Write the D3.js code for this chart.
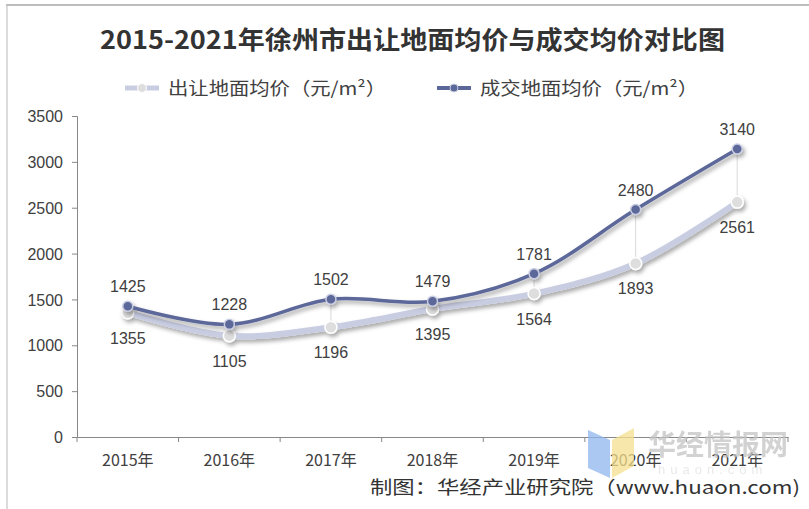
<!DOCTYPE html>
<meta charset="utf-8">
<style>
body { margin: 0; background: #fff; }
svg { display: block; font-family: "Liberation Sans", Arial, sans-serif; }
.cjk { font-family: "Noto Sans CJK SC", sans-serif; }
.axis path, .axis line { stroke: #888; }
.axis text { fill: #404040; font-size: 16px; }
</style>
<svg width="809" height="509"></svg>
<script src="https://d3js.org/d3.v7.min.js"></script>
<script>

// chart data
var years = ["2015年", "2016年", "2017年", "2018年", "2019年", "2020年", "2021年"];
var landPrice = [1355, 1105, 1196, 1395, 1564, 1893, 2561];   // 出让地面均价
var dealPrice = [1425, 1228, 1502, 1479, 1781, 2480, 3140];   // 成交地面均价
var yTicks = [0, 500, 1000, 1500, 2000, 2500, 3000, 3500];
var seriesNames = ["出让地面均价（元/m²）", "成交地面均价（元/m²）"];

var svg = d3.select("svg");

// screenshot frame
svg.append("line").attr("x1", 6).attr("x2", 809).attr("y1", 5).attr("y2", 5)
  .attr("stroke", "#bdbdbd").attr("stroke-width", 2);
svg.append("line").attr("x1", 7).attr("x2", 7).attr("y1", 5).attr("y2", 509)
  .attr("stroke", "#c4c4c4").attr("stroke-width", 1.2);

// shadow filter
var defs = svg.append("defs");
var f = defs.append("filter").attr("id", "shadow")
  .attr("x", "-10%").attr("y", "-20%").attr("width", "130%").attr("height", "160%");
f.append("feDropShadow").attr("dx", 2).attr("dy", 3).attr("stdDeviation", 2)
  .attr("flood-color", "#000").attr("flood-opacity", 0.35);

var x = d3.scaleBand().domain(years).range([77, 788]);
var y = d3.scaleLinear().domain([0, 3500]).range([437, 116]);
var cx = d => x(d) + x.bandwidth() / 2;

// axes
var yAxis = svg.append("g").attr("class", "axis").attr("transform", "translate(77,0)")
  .call(d3.axisLeft(y).tickValues(yTicks).tickFormat(d3.format("d")).tickSize(5).tickPadding(9));
yAxis.selectAll("text").attr("dy", "0.35em");

var xAxis = svg.append("g").attr("class", "axis").attr("transform", "translate(0,437)")
  .call(d3.axisBottom(x).tickSize(0).tickPadding(18));
xAxis.selectAll("text").attr("class", "cjk").style("font-size", "16px").attr("fill", "#333");
xAxis.selectAll(".bound").data(d3.range(years.length + 1)).enter().append("line")
  .attr("x1", i => 77 + i * x.step()).attr("x2", i => 77 + i * x.step())
  .attr("y1", 0).attr("y2", 5).attr("stroke", "#888");

// drop lines between series
svg.append("g").selectAll("line").data(years).enter().append("line")
  .attr("x1", cx).attr("x2", cx)
  .attr("y1", (d, i) => y(dealPrice[i])).attr("y2", (d, i) => y(landPrice[i]))
  .attr("stroke", "#d9d9d9").attr("stroke-width", 1);

var line = d3.line().curve(d3.curveCatmullRom.alpha(0.5));

function drawSeries(vals, color, width, mFill, mStroke, r) {
  var pts = vals.map((v, i) => [cx(years[i]), y(v)]);
  var g = svg.append("g").attr("filter", "url(#shadow)");
  g.append("path").attr("d", line(pts)).attr("fill", "none")
    .attr("stroke", color).attr("stroke-width", width).attr("stroke-linecap", "round");
  g.selectAll("circle").data(pts).enter().append("circle")
    .attr("cx", p => p[0]).attr("cy", p => p[1]).attr("r", r)
    .attr("fill", mFill).attr("stroke", mStroke).attr("stroke-width", 1.5);
}

drawSeries(landPrice, "#c9cde2", 6, "#dedede", "#fff", 6);
drawSeries(dealPrice, "#5c6799", 3.5, "#5c6799", "#c9cde2", 5);

// labels
svg.append("g").selectAll("text").data(dealPrice).enter().append("text")
  .attr("x", (d, i) => cx(years[i])).attr("y", d => y(d) - 14)
  .attr("text-anchor", "middle").attr("fill", "#404040").style("font-size", "16px")
  .text(d => d);
svg.append("g").selectAll("text").data(landPrice).enter().append("text")
  .attr("x", (d, i) => cx(years[i])).attr("y", d => y(d) + 31)
  .attr("text-anchor", "middle").attr("fill", "#404040").style("font-size", "16px")
  .text(d => d);

// title
svg.append("text").attr("class", "cjk").attr("x", 100).attr("y", 49)
  .attr("fill", "#333").attr("font-weight", "bold")
  .attr("textLength", 625).attr("lengthAdjust", "spacingAndGlyphs")
  .style("font-size", "25px").text("2015-2021年徐州市出让地面均价与成交均价对比图");

// legend
var legend = [
  {x: 125, color: "#c9cde2", fill: "#dedede", stroke: "#fff", w: 5, r: 4.5},
  {x: 437, color: "#5c6799", fill: "#5c6799", stroke: "#c9cde2", w: 4, r: 4}
];
legend.forEach(function (l, i) {
  var g = svg.append("g");
  g.append("line").attr("x1", l.x).attr("x2", l.x + 34).attr("y1", 88).attr("y2", 88)
    .attr("stroke", l.color).attr("stroke-width", l.w);
  g.append("circle").attr("cx", l.x + 17).attr("cy", 88).attr("r", l.r)
    .attr("fill", l.fill).attr("stroke", l.stroke);
  g.append("text").attr("class", "cjk").attr("x", l.x + 43).attr("y", 95)
    .attr("fill", "#404040").style("font-size", "18px")
    .attr("textLength", 218).attr("lengthAdjust", "spacingAndGlyphs")
    .text(seriesNames[i]);
});

// watermark
var wm = svg.append("g").attr("opacity", 0.75);
wm.append("path").attr("d", "M588,430 L610,440 L610,478 L588,468 Z").attr("fill", "#8fb6f0");
wm.append("path").attr("d", "M612,440 L634,428 L634,466 L612,478 Z").attr("fill", "#f6e08e");
wm.append("text").attr("class", "cjk").attr("x", 648).attr("y", 455)
  .attr("fill", "#c4c4c4").attr("font-weight", "bold").style("font-size", "28px").text("华经情报网");
wm.append("text").attr("x", 658).attr("y", 474).attr("fill", "#e2e2e2")
  .attr("letter-spacing", "5px").style("font-size", "13px").text("huaon.com");

// source
svg.append("text").attr("class", "cjk").attr("x", 370).attr("y", 494)
  .attr("fill", "#333").style("font-size", "18px")
  .attr("textLength", 430).attr("lengthAdjust", "spacingAndGlyphs")
  .text("制图：华经产业研究院（www.huaon.com)");

</script>
